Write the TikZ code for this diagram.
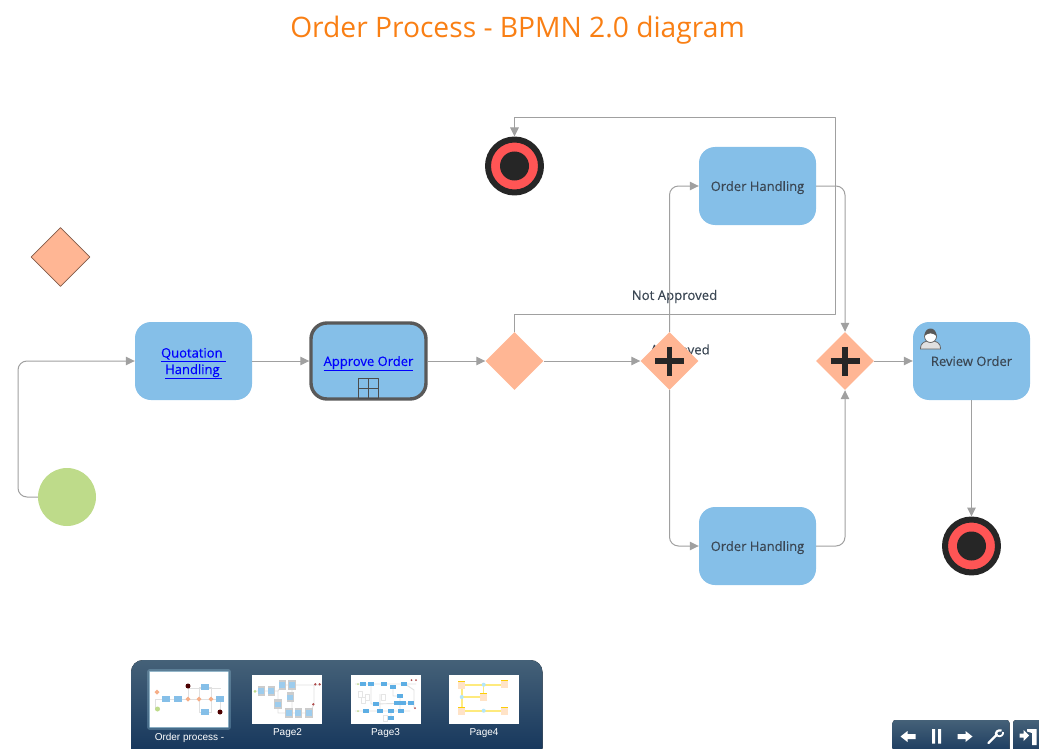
\documentclass[tikz,border=0pt]{standalone}
\usepackage{fontspec}
\setmainfont{Open Sans}
\setsansfont{Liberation Sans}
\newfontfamily\labelfont[FakeBold=0.3]{Open Sans}
\usetikzlibrary{arrows.meta}
\usetikzlibrary{shapes.geometric}
\usetikzlibrary{calc}
\definecolor{taskblue}{HTML}{85BFE8}
\definecolor{gatepeach}{HTML}{FFB694}
\definecolor{startgreen}{HTML}{BEDB8A}
\definecolor{endred}{HTML}{FF5555}
\definecolor{inkdark}{HTML}{262626}
\definecolor{flowgray}{HTML}{A0A0A0}
\definecolor{textslate}{HTML}{3B4754}
\definecolor{titleorange}{HTML}{F97F14}
\definecolor{barhigh}{HTML}{456178}
\definecolor{barlow}{HTML}{12335A}
\tikzset{task/.style={draw=none, fill=taskblue, rounded corners=16pt, minimum width=117pt, minimum height=78pt, align=center, text=textslate, font=\fontsize{13}{17}\labelfont, inner sep=0pt, text depth=0pt}}
\tikzset{gate/.style={diamond, fill=gatepeach, minimum size=58pt, inner sep=0pt, aspect=1}}
\tikzset{stopev/.style={circle, draw=inkdark, fill=endred, line width=6pt, minimum size=53pt, inner sep=0pt}}
\tikzset{stopdot/.style={circle, fill=inkdark, minimum size=29pt, inner sep=0pt}}
\tikzset{flow/.style={draw=flowgray, line width=1pt, -{Triangle[length=9pt,width=8.5pt]}}}
\tikzset{flowback/.style={draw=flowgray, line width=1pt, {Triangle[length=9pt,width=8.5pt]}-}}
\tikzset{l/.style={text=textslate, font=\fontsize{13.2}{15}\labelfont}}
\tikzset{captext/.style={text=white, font=\fontsize{10}{11}\selectfont\sffamily}}
\tikzset{thumb/.style={fill=white, draw=none}}
\tikzset{tl/.style={draw=black!12, line width=.9pt}}
\newcommand{\hyper}[1]{\textcolor{blue}{\underline{#1}}}

\begin{document}
\begin{tikzpicture}[x=1pt, y=-1pt, line join=round]
  \useasboundingbox (0,0) rectangle (1039,749);
  \node [text=titleorange, font=\fontsize{28.2}{32}\selectfont] (title) at (517.5,30) {Order Process - BPMN 2.0 diagram};

  % labels go first, the gateway covers one of them
  \node [l] (approved) at (680,351) {Approved};
  \node [l] (notapproved) at (674.5,296.5) {Not Approved};

  \node [gate, draw=black!50!gatepeach, line width=.6pt, minimum size=59pt] (spare) at (60.5,257) {};
  \node [circle, fill=startgreen, minimum size=58pt, inner sep=0pt] (start) at (67,497) {};
  \node [task] (quote) at (193.5,361) {\hyper{Quotation\ }\\[-.5pt]\hyper{Handling\,}};
  \node [task, draw=black!65, line width=3.4pt, minimum width=115pt, minimum height=76pt] (approve) at (368.5,361) {\hyper{Approve Order}}
    edge [flowback] (quote);
  \node [gate] (gateA) at (514.5,361) {}
    edge [flowback] (approve);
  \node [gate] (gateB) at (669.5,361) {}
    edge [flowback] (gateA);
  \node [gate] (gateC) at (845,361) {};
  \node [task] (orderA) at (757.5,186) {Order Handling};
  \node [task] (orderB) at (757.5,546) {Order Handling};
  \node [task] (review) at (971.5,361) {Review Order}
    edge [flowback] (gateC);
  \node [stopev] (endA) at (514.5,166) {};
  \node [stopdot] (endAdot) at (endA) {};
  \node [stopev] (endB) at (971.5,546) {}
    edge [flowback] (review);
  \node [stopdot] (endBdot) at (endB) {};

  \coordinate (bendA) at (18,361);
  \coordinate (bendB) at (835.5,314);
  \coordinate (bendC) at (835.5,118);
  \draw [flow, rounded corners=9pt] (start.west) -| (bendA) -- (quote.west);
  \draw [flow] (gateA.north) |- (bendB) -- (bendC) -| (endA.north);
  \draw [flow, rounded corners=9pt] (gateB.north) |- (orderA.west);
  \draw [flow, rounded corners=9pt] (gateB.south) |- (orderB.west);
  \draw [flow, rounded corners=9pt] (orderA.east) -| (gateC.north);
  \draw [flow, rounded corners=9pt] (orderB.east) -| (gateC.south);

  % plus signs of the parallel gateways
  \foreach \g in {gateB, gateC} {
    \draw [inkdark, line width=5.6pt] ($(\g)+(-14.5,0)$) -- ($(\g)+(14.5,0)$);
    \draw [inkdark, line width=5.6pt] ($(\g)+(0,-14.5)$) -- ($(\g)+(0,14.5)$);
  }

  % subprocess marker
  \draw [black!70, line width=.9pt] (358.5,378.5) rectangle (378.5,398.5);
  \draw [black!70, line width=.9pt] (368.5,378.5) -- (368.5,398.5) (358.5,388.5) -- (378.5,388.5);

  % user marker
  \draw [black!60, fill=black!12, line width=.8pt] (920.5,349) .. controls (920.5,342) and (925,341) .. (930.5,341) .. controls (936,341) and (940.5,342) .. (940.5,349) -- cycle;
  \draw [black!60, fill=white, line width=.8pt] (930.5,336.5) circle (6pt);
  \fill [black!65] (924.5,336) .. controls (924.5,326) and (936.5,326) .. (936.5,336) .. controls (933,332.5) and (928,332.5) .. (924.5,336) -- cycle;

  % page bar
  \fill [top color=barhigh, bottom color=barlow, rounded corners=12pt] (131,760) -- (131,660) -- (542.5,660) -- (542.5,760) -- cycle;
  \draw [cyan!30!white, opacity=.25, line width=6pt] (150,672) rectangle (228,727);
  \draw [cyan!20!white, opacity=.5, line width=2.5pt] (150,672) rectangle (228,727);
  \fill [thumb] (150,672) rectangle (228,727);
  \fill [thumb] (252,675) rectangle (322,724);
  \fill [thumb] (351,675) rectangle (421,724);
  \fill [thumb] (449,675) rectangle (519,724);
  \node [captext] (capA) at (189.5,737.5) {Order process -};
  \node [captext] (capB) at (287.5,733.5) {Page2};
  \node [captext] (capC) at (385.5,733.5) {Page3};
  \node [captext] (capD) at (484,733.5) {Page4};

  % thumbnail one
  \draw [tl] (158,709) -| (155,699) -- (220,699) (188,699) |- (221,688) (199,699) |- (205,687) -| (211,699) (199,699) |- (205,712) -| (211,699) (220,699) -- (220,712) (188,699) -- (188,686);
  \foreach \x/\y in {166/699, 178/699, 205/687, 220/699, 205/712}
    \fill [taskblue] (\x-4.2,\y-2.6) rectangle (\x+4.2,\y+2.6);
  \foreach \x/\y in {157/692, 188/699, 199/699, 211/699}
    \fill [gatepeach!85!brown] (\x-2.5,\y) -- (\x,\y-2.5) -- (\x+2.5,\y) -- (\x,\y+2.5) -- cycle;
  \fill [startgreen] (157.5,709) circle (2.5pt);
  \fill [red!30!black] (188,686) circle (2.5pt) (220,712) circle (2.5pt);

  % thumbnail two
  \draw [tl] (255,691) -- (278,691) -- (282,685) -- (320,685) (292,685) -- (292,713) (278,691) -- (278,713) -- (310,713) -- (314,704) -- (314,685);
  \foreach \x/\y in {261.3/690.7, 271.3/690.7, 282.3/684.7, 291.7/684.7, 290.3/697.3, 278/704.3, 289/712.7, 298.3/712.7, 308.7/712.7} {
    \fill [black!20] (\x-3.8,\y-5) rectangle (\x+3.8,\y+5);
    \fill [taskblue!80!white] (\x-3,\y-2.8) rectangle (\x+3,\y+2.8);
  }
  \fill [startgreen] (255,691.3) circle (1.5pt);
  \fill [red!55!black!70!white] (315.3,684.3) circle (1.3pt) (319.7,684.3) circle (1.3pt) (313.3,704.3) circle (1.3pt);

  % thumbnail three
  \draw [tl] (355,684) -- (416,684) (355,711) -- (410,711) (371,684) |- (376,704) -- (411,703) (393,687) |- (400,696) -- (400,711) (380,694) -- (380,711) (391,711) -- (391,718) (405,684) -- (414,690) -- (414,708);
  \foreach \x/\y in {363/684, 371/684, 384.3/684, 393.3/686.7, 404.3/684, 400/695.7, 376.3/704.3, 396.7/703.3, 403.3/703.3, 410.7/703.3, 366.3/711, 380/711, 390.7/711, 400.7/711, 391/718.3}
    \fill [cyan!75!blue!65!white] (\x-2.9,\y-1.9) rectangle (\x+2.9,\y+1.9);
  \foreach \x/\y in {360/694, 367/697, 383/697, 363/700, 385/718}
    \draw [black!10, line width=.6pt] (\x-2,\y-3) rectangle (\x+2,\y+3);
  \fill [startgreen] (358,684) circle (1pt) (358,711) circle (1pt);
  \fill [red!55!black!70!white] (411.5,680) circle (1pt) (416,680) circle (1pt) (415,708) circle (1pt);

  % thumbnail four
  \draw [yellow!75!orange!50!white, line width=1.1pt] (462,685) -- (505,685) (462,711) -- (505,711) (462,685) -- (462,711) (483.5,685) -- (483.5,696) (462,697) -- (483,697);
  \foreach \x/\y in {461.7/685, 504.7/684.3, 483.3/696.7, 461.7/710.7, 504.7/710.7} {
    \fill [orange!22!white] (\x-3.7,\y-4) rectangle (\x+3.7,\y+4);
    \fill [yellow!65!orange] (\x-3.7,\y-4) rectangle (\x+3.7,\y-3);
  }
  \fill [cyan!30!white] (483.7,684.7) circle (2pt) (461.7,697) circle (2pt) (483.7,710.7) circle (2pt);

  % player buttons
  \fill [top color=barhigh, bottom color=barlow, rounded corners=3pt] (892.5,720) -- (1009.5,720) -- (1009.5,760) -- (892.5,760) -- cycle;
  \fill [top color=barhigh, bottom color=barlow, rounded corners=3pt] (1013,720) -- (1045,720) -- (1045,760) -- (1013,760) -- cycle;
  \fill [white] (900.5,736.5) -- (907.5,731) -- (907.5,734) -- (915.5,734) -- (915.5,739) -- (907.5,739) -- (907.5,742) -- cycle;
  \fill [white] (932,729) rectangle (935,743.5) (938,729) rectangle (941,743.5);
  \fill [white] (972.5,736.5) -- (965.5,731) -- (965.5,734) -- (957.5,734) -- (957.5,739) -- (965.5,739) -- (965.5,742) -- cycle;
  \draw [white, line width=2.2pt, line cap=round] (988.5,743) -- (997,734.5);
  \draw [white, line width=2.2pt] (996.5,736.5) .. controls (994.5,732) and (998,729.5) .. (1001.5,730.5);
  \draw [white, line width=1.8pt] (1003,732) .. controls (1003.5,735) and (1001,737) .. (997.5,736);
  \fill [white] (1019.5,733.5) -- (1023.5,733.5) -- (1023.5,730) -- (1029,735.5) -- (1023.5,741) -- (1023.5,737.5) -- (1019.5,737.5) -- cycle;
  \fill [white] (1027,729) -- (1036.5,729) -- (1036.5,745) -- (1032,745) -- (1032,733) -- (1027,731.5) -- cycle;
\end{tikzpicture}
\end{document}
